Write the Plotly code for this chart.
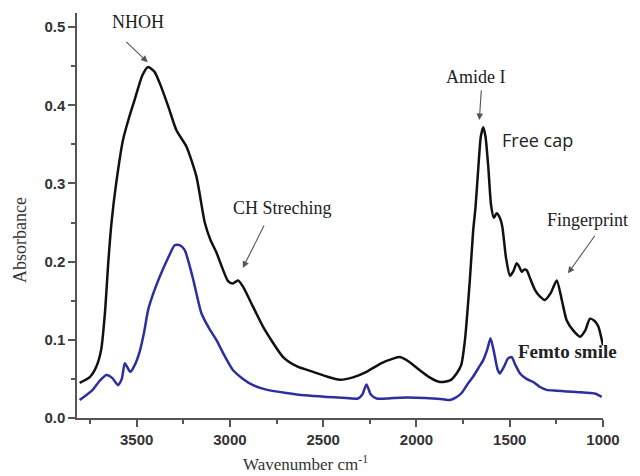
import plotly.graph_objects as go

# Free cap (black) spectrum
black_wn = [3806, 3753, 3716, 3690, 3670, 3652, 3635, 3610, 3574, 3540, 3511, 3470, 3439, 3405, 3376,
            3330, 3287, 3233, 3180, 3135, 3105, 3073, 3010, 2985, 2957, 2930, 2894, 2823, 2715,
            2640, 2554, 2480, 2411, 2340, 2268, 2190, 2125, 2089, 2040, 1982, 1930, 1874, 1820,
            1785, 1760, 1740, 1714, 1696, 1684, 1670, 1655, 1642, 1630, 1615, 1600, 1585, 1570,
            1553, 1540, 1520, 1499, 1480, 1463, 1450, 1436, 1422, 1409, 1390, 1365, 1340, 1311,
            1280, 1248, 1220, 1195, 1160, 1123, 1095, 1070, 1045, 1025, 1000]
black_abs = [0.045, 0.052, 0.066, 0.088, 0.135, 0.200, 0.250, 0.300, 0.355, 0.385, 0.407, 0.438, 0.449, 0.443, 0.428,
             0.398, 0.368, 0.347, 0.309, 0.250, 0.228, 0.212, 0.175, 0.172, 0.176, 0.168, 0.151, 0.117, 0.078,
             0.066, 0.059, 0.053, 0.049, 0.052, 0.059, 0.070, 0.076, 0.078, 0.072, 0.061, 0.052, 0.046, 0.048,
             0.057, 0.068, 0.100, 0.176, 0.240, 0.268, 0.315, 0.360, 0.372, 0.360, 0.321, 0.272, 0.256, 0.262,
             0.256, 0.245, 0.205, 0.182, 0.188, 0.198, 0.194, 0.187, 0.190, 0.189, 0.178, 0.164, 0.156, 0.151,
             0.160, 0.176, 0.150, 0.125, 0.112, 0.104, 0.112, 0.127, 0.124, 0.117, 0.093]

# Femto smile (blue) spectrum
blue_wn = [3806, 3740, 3700, 3663, 3630, 3600, 3580, 3564, 3548, 3534, 3510, 3484, 3460, 3439, 3410,
           3376, 3335, 3296, 3270, 3243, 3200, 3153, 3110, 3073, 3030, 2983, 2930, 2876, 2800, 2697,
           2600, 2482, 2400, 2313, 2290, 2268, 2245, 2214, 2150, 2089, 2000, 1910, 1860, 1821, 1790,
           1758, 1730, 1696, 1665, 1642, 1620, 1603, 1585, 1565, 1553, 1530, 1510, 1490, 1470, 1445,
           1410, 1374, 1340, 1302, 1250, 1195, 1130, 1070, 1040, 1007]
blue_abs = [0.023, 0.035, 0.047, 0.055, 0.051, 0.042, 0.050, 0.070, 0.064, 0.059, 0.068, 0.085, 0.110, 0.138, 0.160,
            0.181, 0.203, 0.221, 0.221, 0.215, 0.180, 0.134, 0.114, 0.100, 0.080, 0.061, 0.050, 0.042, 0.036, 0.032,
            0.029, 0.027, 0.026, 0.025, 0.030, 0.043, 0.030, 0.025, 0.025, 0.026, 0.026, 0.025, 0.024, 0.023, 0.026,
            0.032, 0.042, 0.053, 0.065, 0.074, 0.088, 0.102, 0.085, 0.062, 0.057, 0.066, 0.076, 0.078, 0.068, 0.057,
            0.050, 0.046, 0.040, 0.036, 0.035, 0.034, 0.033, 0.032, 0.031, 0.027]

x_ticks = [3500, 3000, 2500, 2000, 1500, 1000]
x_tick_labels = ["3500", "3000", "2500", "2000", "1500", "1000"]
y_ticks = [0.0, 0.1, 0.2, 0.3, 0.4, 0.5]
y_tick_labels = ["0.0", "0.1", "0.2", "0.3", "0.4", "0.5"]

fig = go.Figure()
fig.add_trace(go.Scatter(x=blue_wn, y=blue_abs, mode="lines", name="Femto smile",
                         line=dict(color="#2c2f9c", width=2.5, shape="spline", smoothing=0.6)))
fig.add_trace(go.Scatter(x=black_wn, y=black_abs, mode="lines", name="Free cap",
                         line=dict(color="#111111", width=2.5, shape="spline", smoothing=0.6)))

serif = "Liberation Serif"
arrow_col = "#555555"

def text_ann(x, y, text, size=18, family=serif, xanchor="center", bold=False, xref="x"):
    fig.add_annotation(x=x, y=y, xref=xref, yref="y", text=text, showarrow=False,
                       xanchor=xanchor, yanchor="middle",
                       font=dict(family=family, size=size, color="#222222",
                                 weight="bold" if bold else "normal"))

def arrow_ann(x_tail, y_tail, x_head, y_head):
    fig.add_annotation(x=x_head, y=y_head, ax=x_tail, ay=y_tail, xref="x", yref="y",
                       axref="x", ayref="y", text="", showarrow=True, arrowhead=2,
                       arrowsize=1.2, arrowwidth=1.1, arrowcolor=arrow_col)

text_ann(3495, 0.506, "NHOH")
arrow_ann(3564, 0.483, 3441, 0.455)
text_ann(2717, 0.269, "CH Streching")
arrow_ann(2813, 0.248, 2931, 0.192)
text_ann(1681, 0.436, "Amide I")
arrow_ann(1652, 0.421, 1663, 0.381)
text_ann(1553, 0.355, "Free cap", size=18, family="Open Sans", xanchor="left")
text_ann(1.052, 0.253, "Fingerprint", size=18, xanchor="right", xref="paper")
arrow_ann(1038, 0.235, 1188, 0.185)
text_ann(1188, 0.085, "Femto smile", size=19, bold=True)

fig.add_annotation(x=-0.108, y=0.44, xref="paper", yref="paper", text="Absorbance",
                   showarrow=False, textangle=-90, xanchor="center", yanchor="middle",
                   font=dict(family=serif, size=18, color="#333333"))
fig.add_annotation(x=0.435, y=-0.08, xref="paper", yref="paper",
                   text="Wavenumber cm<sup>-1</sup>", showarrow=False,
                   xanchor="center", yanchor="top",
                   font=dict(family=serif, size=17, color="#333333"))

tickfont = dict(family="Liberation Sans", size=15, color="#333333", weight="bold")
fig.update_layout(
    width=632, height=468,
    margin=dict(l=69, r=37, t=5, b=58),
    paper_bgcolor="white", plot_bgcolor="white",
    showlegend=False,
    xaxis=dict(range=[3820, 1000], tickvals=x_ticks, ticktext=x_tick_labels,
               showgrid=False, zeroline=False, showline=True, linecolor="#555555", linewidth=1.5,
               ticks="outside", ticklen=7, tickwidth=1.5, tickcolor="#555555",
               minor=dict(tickvals=[3750, 3250, 2750, 2250, 1750, 1250], ticks="outside",
                          ticklen=4, tickwidth=1.5, tickcolor="#555555"),
               tickfont=tickfont),
    yaxis=dict(range=[0, 0.518], tickvals=y_ticks, ticktext=y_tick_labels,
               showgrid=False, zeroline=False, showline=True, linecolor="#555555", linewidth=1.5,
               ticks="outside", ticklen=7, tickwidth=1.5, tickcolor="#555555",
               minor=dict(tickvals=[0.05, 0.15, 0.25, 0.35, 0.45], ticks="outside",
                          ticklen=4, tickwidth=1.5, tickcolor="#555555"),
               tickfont=tickfont),
)

fig.write_html("out.html")
